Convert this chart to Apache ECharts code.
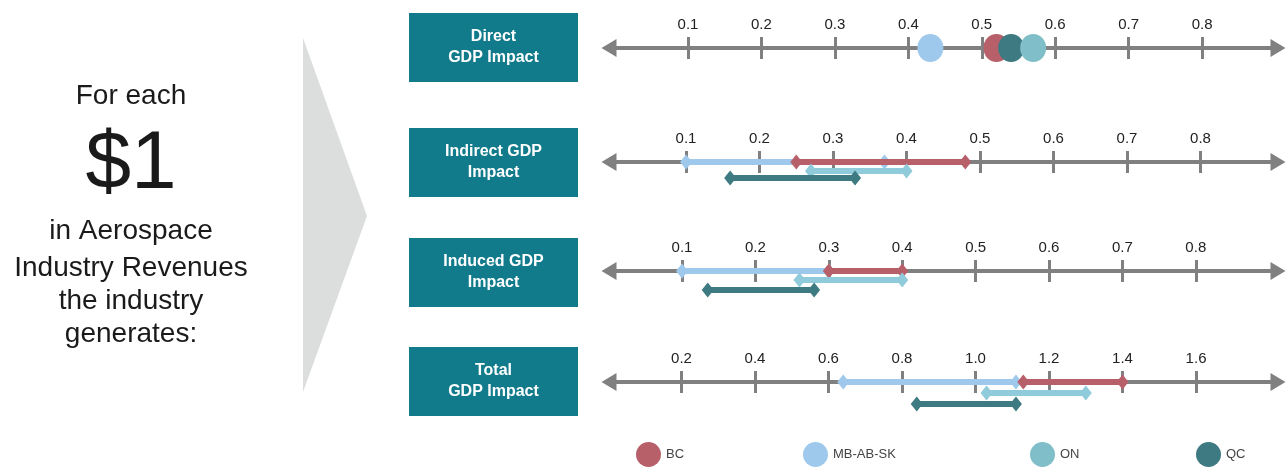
<!DOCTYPE html>
<html>
<head>
<meta charset="utf-8">
<script src="https://cdn.jsdelivr.net/npm/echarts@6/dist/echarts.min.js"></script>
<style>
  html, body { margin: 0; padding: 0; background: #ffffff; }
  #chart { width: 1287px; height: 467px; }
</style>
</head>
<body>
<div id="chart"></div>
<script>
// Regions compared on each impact line
const regions = ['BC', 'MB-AB-SK', 'ON', 'QC'];
const impactTitles = ['Direct\nGDP Impact', 'Indirect GDP\nImpact', 'Induced GDP\nImpact', 'Total\nGDP Impact'];

// GDP generated per $1 of aerospace revenue, order follows `regions`
const directImpact = [0.52, 0.43, 0.57, 0.54];
const indirectLow  = [0.25, 0.10, 0.27, 0.16];
const indirectHigh = [0.48, 0.37, 0.40, 0.33];
const inducedLow   = [0.30, 0.10, 0.26, 0.135];
const inducedHigh  = [0.40, 0.30, 0.40, 0.28];
const totalLow     = [1.13, 0.64, 1.03, 0.84];
const totalHigh    = [1.40, 1.11, 1.30, 1.11];

// Tick labels of the number lines
const partTicks  = [0.1, 0.2, 0.3, 0.4, 0.5, 0.6, 0.7, 0.8];
const totalTicks = [0.2, 0.4, 0.6, 0.8, 1.0, 1.2, 1.4, 1.6];

// Styling and layout
const dotColors = ['#b8606a', '#9ec8ec', '#80bfc9', '#3e7a81'];
const barColors = ['#b8606a', '#9ec8ec', '#90cbdc', '#3e7a81'];
const axisGrey = '#808080';
const boxColor = '#127b8b';
const FONT = '"Liberation Sans", Arial, sans-serif';
const lineLeft = 609, lineRight = 1278;
// per row: y of the number line, visible value span, vertical offset (px) of each region's bar
const rows = [
  { y: 48,  min: -0.0076, max: 0.9034, ticks: partTicks,  lanes: [0, 0, 0, 0] },
  { y: 162, min: -0.0048, max: 0.9054, ticks: partTicks,  lanes: [0, 0, 9, 16] },
  { y: 271, min: 0.0005,  max: 0.912,  ticks: partTicks,  lanes: [0, 0, 9, 19] },
  { y: 382, min: 0.0027,  max: 1.823,  ticks: totalTicks, lanes: [0, 0, 11, 22] }
];
const boxes = [
  { top: 13, bottom: 82 }, { top: 128, bottom: 197 },
  { top: 238, bottom: 307 }, { top: 347, bottom: 416 }
];
const legendLeft = [636, 803, 1030, 1196];
// draw order inside a row: wider provincial band underneath
const drawOrder = [1, 0, 2, 3];

const grids = [], xAxes = [], yAxes = [], series = [];

rows.forEach((row, r) => {
  grids.push({ left: lineLeft, width: lineRight - lineLeft, top: row.y - 11, height: 36 });
  xAxes.push({
    gridIndex: r, type: 'value', position: 'top', min: row.min, max: row.max,
    axisLine: { show: false, onZero: false }, splitLine: { show: false },
    axisTick: { show: true, inside: true, length: 22, customValues: row.ticks,
                lineStyle: { color: axisGrey, width: 3 } },
    axisLabel: { customValues: row.ticks, margin: 5, fontSize: 15, color: '#222',
                 fontFamily: FONT, formatter: v => v.toFixed(1) }
  });
  yAxes.push({ gridIndex: r, type: 'value', inverse: true, min: -11, max: 25, show: false });

  // the number line with arrow heads at both ends
  series.push({
    type: 'line', xAxisIndex: r, yAxisIndex: r, data: [], silent: true, z: 1,
    markLine: {
      z: 1, silent: true, symbol: ['triangle', 'triangle'], symbolSize: [18, 15],
      lineStyle: { color: axisGrey, width: 4, type: 'solid' },
      label: { show: false }, emphasis: { disabled: true },
      data: [[{ coord: [row.min, 0] }, { coord: [row.max, 0] }]]
    }
  });
});

// Direct impact: one dot per region
[0, 1, 3, 2].forEach(i => {
  series.push({
    name: regions[i], type: 'scatter', xAxisIndex: 0, yAxisIndex: 0, z: 4,
    symbol: 'circle', symbolSize: [26, 28],
    itemStyle: { color: dotColors[i], opacity: 1 },
    data: [[directImpact[i], rows[0].lanes[i]]]
  });
});

// Indirect, induced and total impact: low-high ranges
const ranges = [[indirectLow, indirectHigh], [inducedLow, inducedHigh], [totalLow, totalHigh]];
ranges.forEach(([lo, hi], k) => {
  const r = k + 1;
  drawOrder.forEach((i, n) => {
    series.push({
      name: regions[i], type: 'line', xAxisIndex: r, yAxisIndex: r, z: 3 + n,
      symbol: 'diamond', symbolSize: [12, 15], showSymbol: true,
      lineStyle: { color: barColors[i], width: 6 },
      itemStyle: { color: barColors[i] },
      emphasis: { disabled: true },
      data: [[lo[i], rows[r].lanes[i]], [hi[i], rows[r].lanes[i]]]
    });
  });
});

const legends = regions.map((name, i) => ({
  data: [name], left: legendLeft[i], top: 442, padding: 0,
  icon: 'circle', itemWidth: 25, itemHeight: 26, selectedMode: false,
  textStyle: { fontSize: 13, color: '#444', fontFamily: FONT }
}));

// Title boxes, lead-in text and the arrow shape
const graphics = [
  { type: 'polygon', shape: { points: [[303, 38], [367, 216], [303, 392]] },
    style: { fill: '#dcdddd' } }
];
const leadLines = [
  { text: 'For each', y: 96, size: 28 },
  { text: '$1', y: 165, size: 82 },
  { text: 'in Aerospace', y: 231, size: 28 },
  { text: 'Industry Revenues', y: 268, size: 28 },
  { text: 'the industry', y: 301, size: 28 },
  { text: 'generates:', y: 334, size: 28 }
];
leadLines.forEach(l => graphics.push({
  type: 'text', x: 131, y: l.y,
  style: { text: l.text, textAlign: 'center', textVerticalAlign: 'middle',
           font: l.size + 'px ' + FONT, fill: '#1a1a1a' }
}));
boxes.forEach((b, i) => {
  graphics.push({ type: 'rect', shape: { x: 409, y: b.top, width: 169, height: b.bottom - b.top },
                  style: { fill: boxColor } });
  graphics.push({
    type: 'text', x: 493.5, y: (b.top + b.bottom) / 2,
    style: { text: impactTitles[i], textAlign: 'center', textVerticalAlign: 'middle',
             font: 'bold 16px ' + FONT, fill: '#ffffff', lineHeight: 21 }
  });
});

const chart = echarts.init(document.getElementById('chart'));
chart.setOption({
  animation: false,
  backgroundColor: '#ffffff',
  grid: grids, xAxis: xAxes, yAxis: yAxes,
  legend: legends,
  graphic: graphics,
  series: series
});
</script>
</body>
</html>
